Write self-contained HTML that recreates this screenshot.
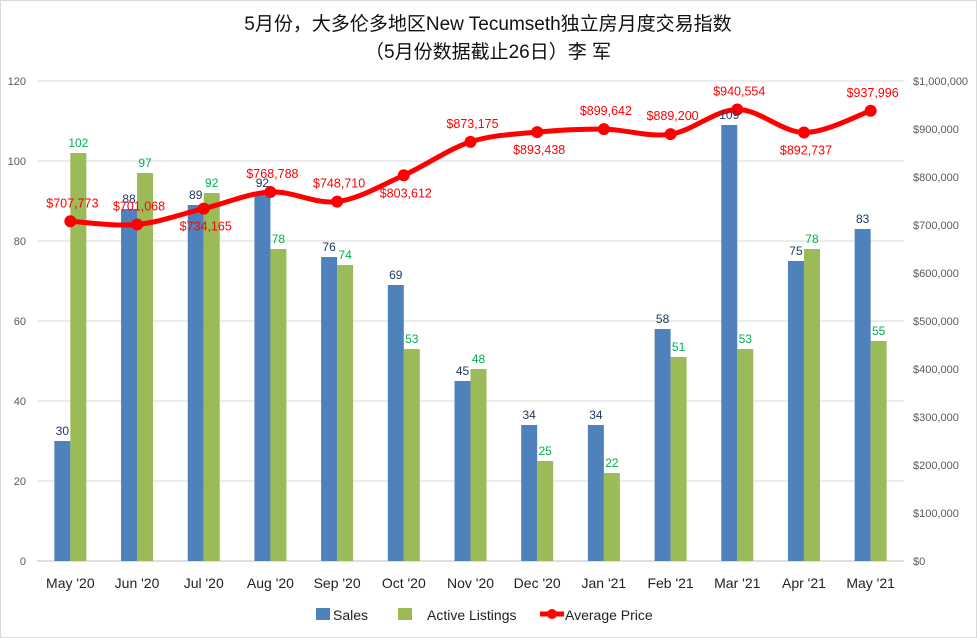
<!DOCTYPE html>
<html><head><meta charset="utf-8"><style>
body{margin:0;background:#fff}
svg{display:block;font-family:"Liberation Sans","Noto Sans CJK SC",sans-serif}
</style></head><body>
<svg id="chart" width="977" height="638" viewBox="0 0 977 638">
<rect x="0.5" y="0.5" width="976" height="637" fill="#fff" stroke="#d9d9d9"/>
<text x="488" y="30" text-anchor="middle" font-size="19" fill="#111">5月份，大多伦多地区New Tecumseth独立房月度交易指数</text>
<text x="488" y="58" text-anchor="middle" font-size="19" fill="#111">（5月份数据截止26日）李 军</text>
<g id="grid"></g><g id="bars"></g><g id="line"></g><g id="labels"></g>
<g font-size="14" fill="#222">
<rect x="316" y="608" width="14" height="12" fill="#4f81bd"/>
<text x="333" y="620">Sales</text>
<rect x="398" y="608" width="14" height="12" fill="#9bbb59"/>
<text x="427" y="620">Active Listings</text>
<line x1="540" y1="614" x2="564" y2="614" stroke="#f00" stroke-width="5"/>
<circle cx="552" cy="614" r="5" fill="#f00"/>
<text x="565" y="620">Average Price</text>
</g>
</svg>
<script>
const categories=["May '20","Jun '20","Jul '20","Aug '20","Sep '20","Oct '20","Nov '20","Dec '20","Jan '21","Feb '21","Mar '21","Apr '21","May '21"];
const sales=[30,88,89,92,76,69,45,34,34,58,109,75,83];
const listings=[102,97,92,78,74,53,48,25,22,51,53,78,55];
const prices=[707773,701068,734165,768788,748710,803612,873175,893438,899642,889200,940554,892737,937996];
const labelAbove=[1,1,0,1,1,0,1,0,1,1,1,0,1];
const leftTicks=[0,20,40,60,80,100,120];
const rightTicks=[0,100000,200000,300000,400000,500000,600000,700000,800000,900000,1000000];
const NS="http://www.w3.org/2000/svg";
const X0=37,X1=904,Y0=561,Y1=81;
const band=(X1-X0)/categories.length;
const xc=i=>X0+band*(i+0.5);
const yL=v=>Y0-(v/120)*(Y0-Y1);
const yR=v=>Y0-(v/1000000)*(Y0-Y1);
function mk(tag,attrs,parent){const e=document.createElementNS(NS,tag);for(const k in attrs)e.setAttribute(k,attrs[k]);parent.appendChild(e);return e;}
const grid=document.getElementById('grid'),bars=document.getElementById('bars'),line=document.getElementById('line'),labels=document.getElementById('labels');
leftTicks.forEach(t=>{
 const l=mk('line',{x1:X0,x2:X1,y1:yL(t),y2:yL(t),stroke:t===0?'#bfbfbf':'#d9d9d9'},grid);
 
 
 const tx=mk('text',{x:26,y:yL(t)+4,'text-anchor':'end','font-size':11,fill:'#595959'},grid);
 tx.textContent=t;
 
 
});
rightTicks.forEach(t=>{
 const tx=mk('text',{x:913,y:yR(t)+4,'font-size':11,fill:'#595959'},grid);
 tx.textContent='$'+t.toLocaleString('en-US');
 
 
});
categories.forEach((c,i)=>{
 const tx=mk('text',{x:xc(i),y:588,'text-anchor':'middle','font-size':14,fill:'#222'},grid);
 tx.textContent=c;
 
 
 const b=mk('rect',{x:xc(i)-16,y:yL(sales[i]),width:16,height:Y0-yL(sales[i]),fill:'#4f81bd'},bars);
 
 
 const g=mk('rect',{x:xc(i),y:yL(listings[i]),width:16,height:Y0-yL(listings[i]),fill:'#9bbb59'},bars);
 
 
 const sl=mk('text',{x:xc(i)-8,y:yL(sales[i])-6,'text-anchor':'middle','font-size':12,fill:'#1f3864'},labels);
 sl.textContent=sales[i];
 
 
 const ll=mk('text',{x:xc(i)+8,y:yL(listings[i])-6,'text-anchor':'middle','font-size':12,fill:'#00b050'},labels);
 ll.textContent=listings[i];
 
 
});
const pts=prices.map((p,i)=>[xc(i),yR(p)]);
let d='M'+pts[0][0]+','+pts[0][1];
for(let i=0;i<pts.length-1;i++){
 const p0=pts[Math.max(i-1,0)],p1=pts[i],p2=pts[i+1],p3=pts[Math.min(i+2,pts.length-1)];
 const t=1/6;
 d+=' C'+(p1[0]+(p2[0]-p0[0])*t)+','+(p1[1]+(p2[1]-p0[1])*t)+' '+(p2[0]-(p3[0]-p1[0])*t)+','+(p2[1]-(p3[1]-p1[1])*t)+' '+p2[0]+','+p2[1];
}
const path=mk('path',{d:d,fill:'none',stroke:'#f00','stroke-width':5,'stroke-linejoin':'round'},line);


pts.forEach((p,i)=>{
 const c=mk('circle',{cx:p[0],cy:p[1],r:6,fill:'#f00'},line);
 
 
 const tx=mk('text',{x:p[0]+2,y:labelAbove[i]?p[1]-14:p[1]+22,'text-anchor':'middle','font-size':12.5,fill:'#f00'},labels);
 tx.textContent='$'+prices[i].toLocaleString('en-US');
 
 
});
</script>
</body></html>
